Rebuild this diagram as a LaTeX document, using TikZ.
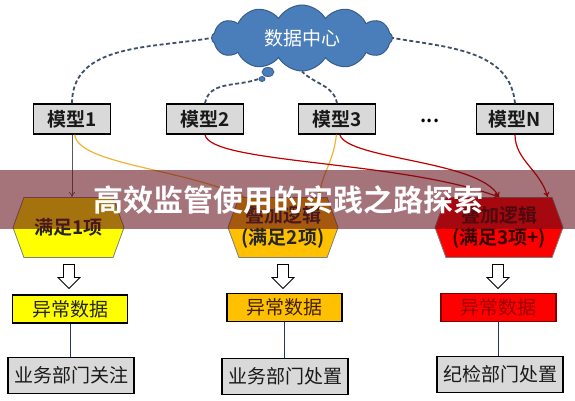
\documentclass[tikz,border=0pt]{standalone}
\usepackage{fontspec}
\setmainfont{Noto Sans CJK SC}[BoldFont={Noto Sans CJK SC Bold}]
\usetikzlibrary{shapes.symbols,shapes.geometric,arrows.meta}
\definecolor{cloudblue}{HTML}{4A7EBB}
\definecolor{cloudedge}{HTML}{385D8A}
\definecolor{dashblue}{HTML}{3E4F68}
\definecolor{boxgray}{HTML}{D9D9D9}
\definecolor{hexgray}{HTML}{7F7F7F}
\definecolor{lvlone}{HTML}{FFFF00}
\definecolor{lvltwo}{HTML}{FFC000}
\definecolor{lvlthree}{HTML}{FF0000}
\definecolor{goldline}{HTML}{F2B233}
\definecolor{redline}{HTML}{C00000}
\definecolor{navyline}{HTML}{1F3864}
\definecolor{bannerred}{RGB}{100,15,25}
\newcommand{\labelsize}{\fontsize{19}{22}\selectfont}
\begin{document}
\begin{tikzpicture}[x=1pt,y=1pt,
    model/.style={draw=black, line width=1.3pt, fill=boxgray, text=black!90,
        minimum width=77pt, minimum height=30pt, inner sep=0pt, font=\bfseries\labelsize},
    hexa/.style={signal, signal to=east and west, signal pointer angle=140,
        draw=hexgray, line width=0.8pt, minimum height=60pt, inner sep=0pt,
        align=center, font=\bfseries\labelsize},
    alarm/.style={draw=black, line width=1.2pt, minimum width=115pt,
        minimum height=28pt, inner sep=0pt, font=\labelsize},
    dept/.style={draw=black, line width=1.2pt, fill=boxgray, text=black!90,
        minimum width=126pt, minimum height=36pt, inner sep=0pt, font=\labelsize},
    hollow/.style={draw=black, fill=white, line width=0.8pt, line join=miter},
    puff/.style={ellipse, fill=cloudblue, draw=cloudedge, line width=0.8pt, inner sep=0pt},
    link/.style={dashblue, line width=1.8pt, dash pattern=on 4pt off 2.5pt},
    >={To[length=5pt,width=6pt]}]
\useasboundingbox (0,0) rectangle (575,400);
% data centre
\node[cloud, cloud puffs=12, cloud puff arc=120, aspect=2.8,
    minimum width=181pt, minimum height=66pt, inner sep=0pt,
    fill=cloudblue, draw=cloudedge, line width=1pt,
    text=white, font=\labelsize] (cloud) at (302,362) {数据中心};
\node[puff, minimum width=12pt, minimum height=9pt] (bubble) at (268,328) {};
\node[puff, minimum width=6pt, minimum height=5pt] (tip) at (262,321) {};
% models
\node[model] (m1) at (72,281) {模型1};
\node[model] (m2) at (205,281) {模型2};
\node[model] (m3) at (337,281) {模型3};
\node[model] (mN) at (515,281) {模型N};
\node[font=\bfseries\labelsize] (dots) at (430,279) {...};
\draw[link] (m1.north) to[out=90,in=190] (cloud.west);
\draw[link] (m2.north) to[out=80,in=200] (tip.west);
\draw[link] (m3.north) to[out=100,in=-45] (cloud.south);
\draw[link] (mN.north) to[out=95,in=-10] (cloud.east);
% logic levels
\node[hexa, fill=lvlone, minimum width=111pt, text=black!85] (h1) at (68.5,172.5) {满足1项};
\node[hexa, fill=lvltwo, minimum width=110pt, text=black!85] (h2) at (283,172.5) {叠加逻辑\\(满足2项)};
\node[hexa, fill=lvlthree, minimum width=128pt, text=black!80!red] (h3) at (499,172.5) {叠加逻辑\\(满足3项+)};
\draw[->, black!65, line width=0.7pt] (m1.south) -- (m1.south |- h1.north);
\draw[->, goldline, line width=1.2pt] (m1.-80) .. controls (78,236) and (180,232) .. (h2.142);
\draw[->, goldline, line width=1.2pt] (m3.-92) .. controls (333,236) and (322,228) .. (h2.40);
\draw[->, redline, line width=1.2pt] (m2.south) .. controls (210,236) and (400,240) .. (h3.north);
\draw[->, redline, line width=1.2pt] (m3.-80) .. controls (348,240) and (480,240) .. (h3.north);
\draw[->, redline, line width=1.2pt] (mN.south) .. controls (515,240) and (540,230) .. (h3.32);
% hollow arrows
\foreach \x in {69,283,498}
    \draw[hollow] (\x-5.5,135.5) -- (\x+5.5,135.5) -- (\x+5.5,122.5) -- (\x+11,122.5)
        -- (\x,111.5) -- (\x-11,122.5) -- (\x-5.5,122.5) -- cycle;
% abnormal data
\node[alarm, fill=lvlone, text=black!85] (d1) at (70,91) {异常数据};
\node[alarm, fill=lvltwo, text=black!75!orange] (d2) at (284.5,92.5) {异常数据};
\node[alarm, fill=lvlthree, draw=black!50!red, text=black!40!red] (d3) at (498.5,92.5) {异常数据};
% departments
\node[dept] (b1) at (71,24.5) {业务部门关注};
\node[dept] (b2) at (285,23.5) {业务部门处置};
\node[dept] (b3) at (500,25.5) {纪检部门处置};
\draw[navyline, line width=0.8pt] (d1.south) -- (d1.south |- b1.north);
\draw[navyline, line width=0.8pt] (d2.south) -- (d2.south |- b2.north);
\draw[navyline, line width=0.8pt] (d3.south) -- (d3.south |- b3.north);
% banner
\fill[bannerred, opacity=0.58] (0,171) rectangle (575,230);
\node[text=white, font=\bfseries\fontsize{30}{33}\selectfont] (title) at (288,200) {高效监管使用的实践之路探索};
\end{tikzpicture}
\end{document}
